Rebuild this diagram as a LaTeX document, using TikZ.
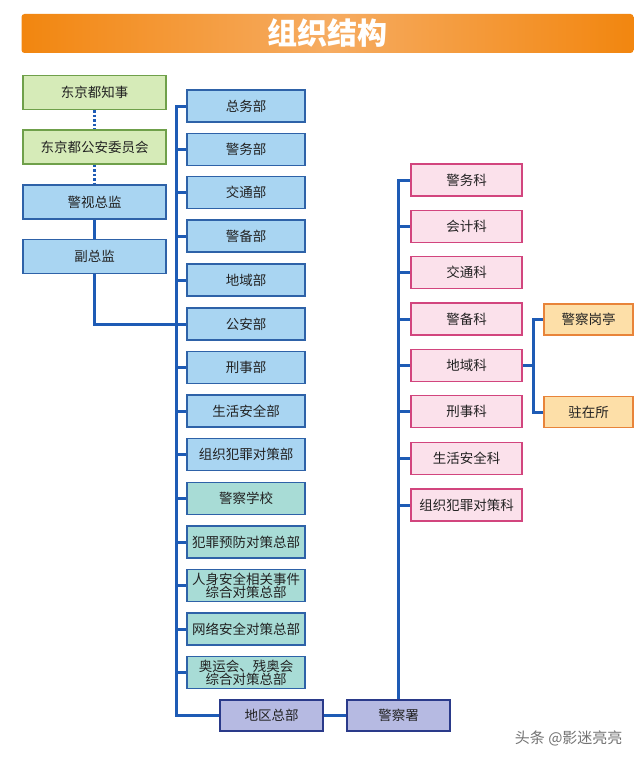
\documentclass[tikz,border=0pt]{standalone}
\usepackage{fontspec}
\newfontfamily\cjk{Noto Sans CJK SC}
\usetikzlibrary{calc,backgrounds}
\definecolor{linkblue}{HTML}{1E5BB5}
\definecolor{greenfill}{HTML}{D6EBB8}
\definecolor{greenline}{HTML}{6FA04A}
\definecolor{bluefill}{HTML}{A9D5F2}
\definecolor{blueline}{HTML}{2E62A8}
\definecolor{tealfill}{HTML}{A8DCD6}
\definecolor{lavfill}{HTML}{B6BAE2}
\definecolor{lavline}{HTML}{2A3A8A}
\definecolor{pinkfill}{HTML}{FBE1EB}
\definecolor{pinkline}{HTML}{D2457E}
\definecolor{orfill}{HTML}{FDDFA8}
\definecolor{orline}{HTML}{E8843A}
\definecolor{titleA}{HTML}{F2860F}
\definecolor{titleB}{HTML}{F6AC62}
\definecolor{txt}{HTML}{222222}
\tikzset{
  box/.style={draw, line width=1.3pt, text=txt, font=\cjk\fontsize{13.5}{14}\selectfont, inner sep=1pt, align=center},
  gbox/.style={box, fill=greenfill, draw=greenline, minimum width=143, minimum height=34},
  lbox/.style={box, fill=bluefill, draw=blueline, minimum width=143, minimum height=34},
  mbox/.style={box, fill=bluefill, draw=blueline, minimum width=118, minimum height=32},
  tbox/.style={box, fill=tealfill, draw=blueline, minimum width=118, minimum height=32},
  vbox/.style={box, fill=lavfill, draw=lavline, minimum width=103, minimum height=31},
  pbox/.style={box, fill=pinkfill, draw=pinkline, minimum width=111, minimum height=32},
  obox/.style={box, fill=orfill, draw=orline, minimum width=89, minimum height=31},
  twoline/.style={font=\cjk\fontsize{13.5}{13}\selectfont},
  conn/.style={draw=linkblue, line width=3pt},
  dotconn/.style={draw=linkblue, line width=2.5pt, dotted},
}
\begin{document}
\begin{tikzpicture}[x=1pt,y=-1pt]
\useasboundingbox (0,0) rectangle (640,760);
% title
\node[rounded corners=3pt, left color=titleA, right color=titleA, middle color=titleB, minimum width=612, minimum height=39, inner sep=0pt] (title) at (327.5,33.5) {};
\node[text=white, font=\cjk\bfseries\fontsize{30}{32}\selectfont] (titletext) at (327,33) {组织结构};
% left column
\node[gbox] (zhishi) at (94.5,92.5) {东京都知事};
\node[gbox] (weiyuan) at (94.5,147) {东京都公安委员会};
\node[lbox] (zongjian) at (94.5,202) {警视总监};
\node[lbox] (fuzong) at (94.5,256.5) {副总监};
% middle column
\node[mbox] (zongwu) at (246,106) {总务部};
\node[mbox] (jingwu) at (246,149.5) {警务部};
\node[mbox] (jiaotong) at (246,192.5) {交通部};
\node[mbox] (jingbei) at (246,236) {警备部};
\node[mbox] (diyu) at (246,280) {地域部};
\node[mbox] (gongan) at (246,324) {公安部};
\node[mbox] (xingshi) at (246,367.5) {刑事部};
\node[mbox] (shenghuo) at (246,411) {生活安全部};
\node[mbox] (zuzhi) at (246,454.5) {组织犯罪对策部};
\node[tbox] (xuexiao) at (246,498.5) {警察学校};
\node[tbox] (yufang) at (246,542) {犯罪预防对策总部};
\node[tbox, twoline] (renshen) at (246,585.5) {人身安全相关事件\\综合对策总部};
\node[tbox] (wangluo) at (246,629) {网络安全对策总部};
\node[tbox, twoline] (aoyun) at (246,672.5) {奥运会、残奥会\\综合对策总部};
\node[vbox] (diqu) at (271.5,715.5) {地区总部};
\node[vbox] (jingchashu) at (398.5,715.5) {警察署};
% right column
\node[pbox] (jingwuke) at (466.5,180) {警务科};
\node[pbox] (kuaiji) at (466.5,226.5) {会计科};
\node[pbox] (jiaotongke) at (466.5,272.5) {交通科};
\node[pbox] (jingbeike) at (466.5,319) {警备科};
\node[pbox] (diyuke) at (466.5,365.5) {地域科};
\node[pbox] (xingshike) at (466.5,411.5) {刑事科};
\node[pbox] (shenghuoke) at (466.5,458.5) {生活安全科};
\node[pbox] (zuzhike) at (466.5,505) {组织犯罪对策科};
\node[obox] (gangting) at (588.5,319.5) {警察岗亭};
\node[obox] (zhuzai) at (588.5,412) {驻在所};
% watermark
\node[text=black!55, font=\cjk\fontsize{15}{16}\selectfont, anchor=east] (wm) at (626,738) {头条 @影迷亮亮};
\begin{scope}[on background layer]
\fill[white] (0,0) rectangle (640,760);
% connectors left
\draw[dotconn] (zhishi.south) -- (weiyuan.north);
\draw[dotconn] (weiyuan.south) -- (zongjian.north);
\draw[conn] (zongjian.south) -- (fuzong.north);
\draw[conn] (fuzong.south) |- (gongan.west);
% middle trunk
\coordinate (t1) at (176,106);
\coordinate (t2) at (176,715.5);
\draw[conn, line cap=rect] (zongwu.west) -- (t1) -- (t2) -- (diqu.west);
\foreach \n in {jingwu,jiaotong,jingbei,diyu,gongan,xingshi,shenghuo,zuzhi,xuexiao,yufang,renshen,wangluo,aoyun}
  \draw[conn] (\n.west) -- (\n.west -| t1);
% right trunk
\draw[conn] (diqu.east) -- (jingchashu.west);
\draw[conn, line cap=rect] (jingchashu.north) -- (jingchashu.north |- jingwuke.west) -- (jingwuke.west);
\foreach \n in {kuaiji,jiaotongke,jingbeike,diyuke,xingshike,shenghuoke,zuzhike}
  \draw[conn] (\n.west) -- (\n.west -| jingchashu.north);
% orange branch
\coordinate (ob) at (533,365.5);
\draw[conn] (diyuke.east) -- (ob);
\draw[conn] (gangting.west) -| (ob) |- (zhuzai.west);
\end{scope}
\end{tikzpicture}
\end{document}
